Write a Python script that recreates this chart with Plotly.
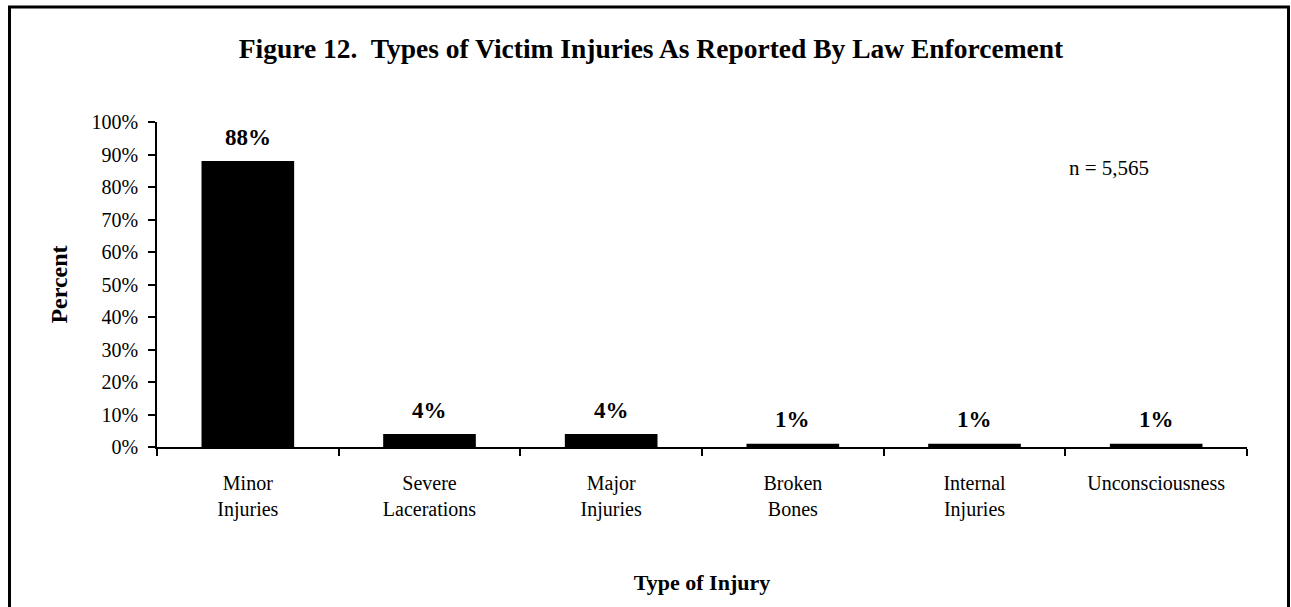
import plotly.graph_objects as go

categories = ["Minor<br>Injuries", "Severe<br>Lacerations", "Major<br>Injuries",
              "Broken<br>Bones", "Internal<br>Injuries", "Unconsciousness"]
values = [88, 4, 4, 1, 1, 1]
value_labels = ["88%", "4%", "4%", "1%", "1%", "1%"]
y_ticks = list(range(0, 101, 10))
y_tick_labels = [f"{v}%" for v in y_ticks]

FONT = "Liberation Serif, Times New Roman, serif"

W, H = 1291, 607
L, R, T, B = 157, 44, 122, 160
pw, ph = W - L - R, H - T - B


def px(x):
    return (x - L) / pw


def py(y):
    return (H - B - y) / ph


fig = go.Figure()
fig.add_trace(go.Bar(x=categories, y=values, marker=dict(color="black", line=dict(width=0)),
                     width=0.51, hoverinfo="skip"))

for c, v, t in zip(categories, values, value_labels):
    fig.add_annotation(x=c, y=v, text=f"<b>{t}</b>", showarrow=False,
                       yanchor="middle", yshift=24,
                       font=dict(family=FONT, size=23, color="black"))

fig.add_annotation(x=px(1109), y=py(168), xref="paper", yref="paper", text="n = 5,565",
                   xanchor="center", yanchor="middle",
                   showarrow=False, font=dict(family=FONT, size=21, color="black"))

fig.add_shape(type="rect", xref="paper", yref="paper",
              x0=px(9.5), x1=px(1288.5), y0=py(660), y1=py(7),
              line=dict(color="black", width=3), fillcolor="rgba(0,0,0,0)", layer="below")

fig.update_layout(
    width=W, height=H,
    margin=dict(l=L, r=R, t=T, b=B),
    paper_bgcolor="white", plot_bgcolor="white",
    showlegend=False,
    font=dict(family=FONT, color="black", size=20),
    title=dict(text="<b>Figure 12.  Types of Victim Injuries As Reported By Law Enforcement</b>",
               x=651 / W, xanchor="center", y=1 - 48 / H, yanchor="middle",
               font=dict(family=FONT, size=27.5, color="black")),
    xaxis=dict(type="category", showline=True, linecolor="black", linewidth=1.5,
               ticks="outside", tickson="boundaries", ticklen=7, tickcolor="black", tickwidth=1.5,
               tickfont=dict(family=FONT, size=20), showgrid=False, ticklabelstandoff=17,
               title=dict(text="<b>Type of Injury</b>", font=dict(family=FONT, size=22), standoff=55)),
    yaxis=dict(range=[0, 100], tickvals=y_ticks, ticktext=y_tick_labels, showline=True,
               linecolor="black", linewidth=1.5, ticks="outside", ticklen=7, tickcolor="black",
               tickwidth=1.5, tickfont=dict(family=FONT, size=20), showgrid=False, zeroline=False,
               ticklabelstandoff=6,
               title=dict(text="<b>Percent</b>", font=dict(family=FONT, size=24), standoff=17)),
)

fig.write_html("out.html", config={"displayModeBar": False},
               post_script="document.body.style.margin='0';")
